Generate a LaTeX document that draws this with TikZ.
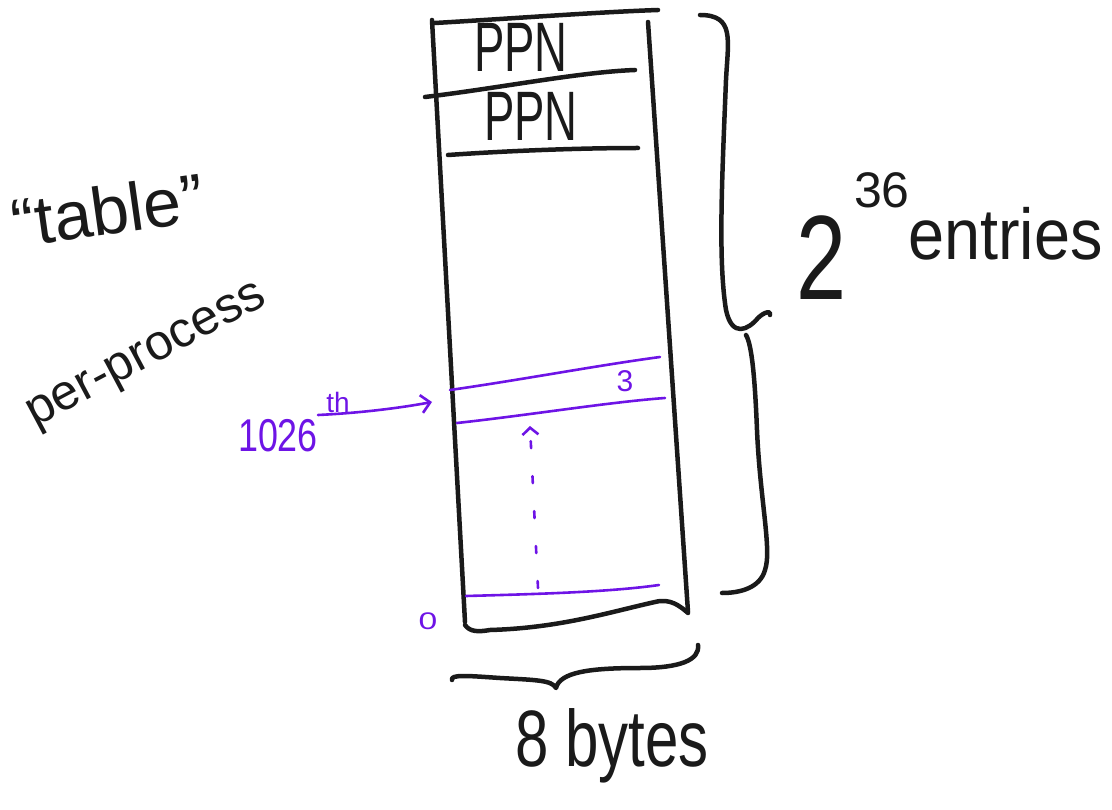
\documentclass[tikz,border=0pt]{standalone}
\usepackage{fontspec}
\setmainfont{Liberation Sans}
\usetikzlibrary{arrows.meta}
\definecolor{ink}{RGB}{26,26,26}
\definecolor{pen}{RGB}{110,20,230}
\tikzset{
  blk/.style={draw=ink, line width=4.5pt, line cap=round, line join=round},
  vio/.style={draw=pen, line width=2.6pt, line cap=round, line join=round},
  hand/.style={text=ink, inner sep=0pt},
  vtext/.style={text=pen, inner sep=0pt},
}
\newcommand{\fs}[1]{\fontsize{#1}{#1}\selectfont}
\begin{document}
\begin{tikzpicture}[x=1pt,y=-1pt]
\useasboundingbox (0,0) rectangle (1112,810);
% page-table column
\draw[blk] (432,20) -- (465,622);
\draw[blk] (648,22) -- (688,612);
\draw[blk] (435,23) .. controls (520,18) and (600,12) .. (658,10);
\draw[blk] (425,97) .. controls (500,88) and (580,72) .. (635,70);
\draw[blk] (448,155) .. controls (520,150) and (590,148) .. (638,148);
\draw[blk] (465,625) .. controls (470,632) and (478,632) .. (490,630)
  .. controls (560,628) and (610,612) .. (655,602)
  .. controls (670,598) and (680,606) .. (688,613);
\node[hand, xscale=0.65] (ppn1) at (521,47) {\fs{70}PPN};
\node[hand, xscale=0.65] (ppn2) at (531,116) {\fs{70}PPN};
% right brace: 2^36 entries
\draw[blk] (700,15) .. controls (735,15) and (728,40) .. (726,80)
  .. controls (722,180) and (718,260) .. (726,310)
  .. controls (732,338) and (748,330) .. (758,318)
  .. controls (764,312) and (772,310) .. (770,315);
\draw[blk] (746,335) .. controls (752,345) and (755,380) .. (757,430)
  .. controls (760,500) and (772,550) .. (765,570)
  .. controls (760,588) and (740,593) .. (722,593);
\node[hand, xscale=0.75] (two) at (822,258) {\fs{120}2};
\node[hand] (exp) at (882,190) {\fs{50}36};
\node[hand, xscale=0.9, anchor=west] (ent) at (908,234) {\fs{72}entries};
% bottom brace: 8 bytes
\draw[blk] (452,680) .. controls (450,674) and (470,676) .. (500,678)
  .. controls (535,680) and (552,680) .. (556,688)
  .. controls (560,672) and (590,668) .. (640,668)
  .. controls (680,668) and (700,660) .. (698,645);
\node[hand, xscale=0.75] (bytes) at (612,746) {\fs{80}8 bytes};
% side labels
\node[hand, rotate=8] (table) at (108,210) {\fs{68}“table”};
\node[hand, rotate=28] (proc) at (148,358) {\fs{50}per-process};
% entry 1026 and entry 0 in violet
\draw[vio] (450,390) .. controls (520,380) and (600,365) .. (660,357);
\draw[vio] (457,423) .. controls (530,415) and (610,402) .. (665,398);
\node[vtext] (three) at (625,381) {\fs{30}3};
\draw[vio] (466,596) .. controls (540,594) and (610,592) .. (659,585);
\node[vtext, xscale=1.4] (zero) at (428,621) {\fs{24}0};
\node[vtext, xscale=0.78] (num) at (278,436) {\fs{46}1026};
\node[vtext] (th) at (338,402) {\fs{28}th};
\coordinate (tip) at (432,402);
\draw[vio, -{Straight Barb[length=9pt,width=18pt]}] (318,415) .. controls (360,413) and (400,408) .. (tip);
% dashed arrow up the column
\coordinate (dlo) at (538,588);
\coordinate (dhi) at (530,426);
\draw[vio, dash pattern=on 7pt off 28pt, -{Straight Barb[length=7pt,width=16pt]}] (dlo) -- (dhi);
\end{tikzpicture}
\end{document}
